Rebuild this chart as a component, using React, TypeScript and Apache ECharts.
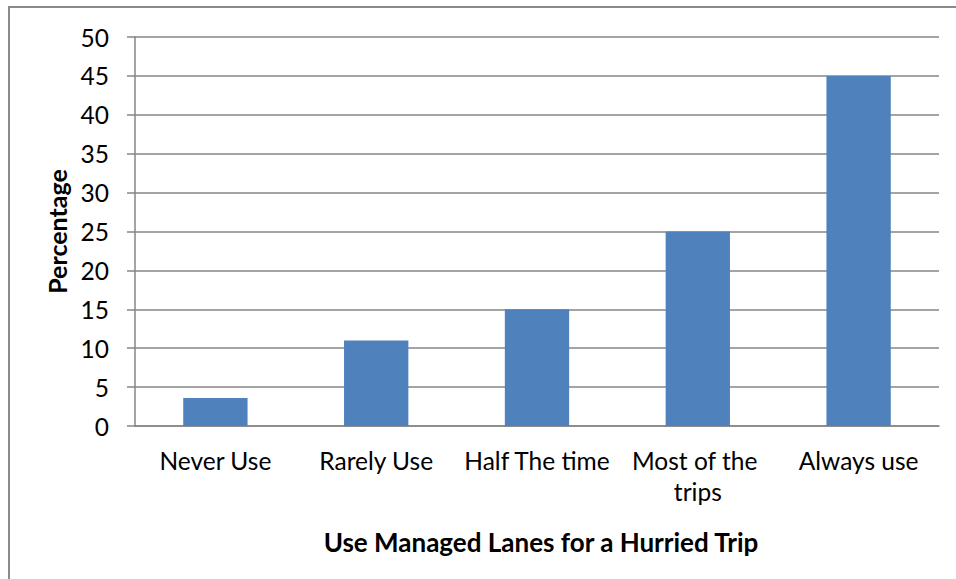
import React, { useEffect, useRef } from "react";
import * as echarts from "echarts";

const categories = ["Never Use", "Rarely Use", "Half The time", "Most of the trips", "Always use"];
const percentages = [3.6, 11, 15, 25, 45];
const yTicks = { min: 0, max: 50, interval: 5 };
const xTitle = "Use Managed Lanes for a Hurried Trip";
const yTitle = "Percentage";

const FONT = "Lato, 'Noto Sans', sans-serif";

export default function App() {
  const ref = useRef<HTMLDivElement>(null);
  useEffect(() => {
    if (!ref.current) return;
    const chart = echarts.init(ref.current, undefined, { renderer: "svg" });
    chart.setOption({
      animation: false,
      backgroundColor: "#ffffff",
      textStyle: { fontFamily: FONT },
      graphic: [
        {
          type: "rect",
          shape: { x: 9, y: 7, width: 1200, height: 900 },
          style: { fill: "none", stroke: "#8a8a8a", lineWidth: 2 },
          silent: true,
        },
      ],
      grid: { left: 135, right: 17, top: 37, bottom: 153, containLabel: false },
      xAxis: {
        type: "category",
        data: categories,
        axisLine: { show: true, lineStyle: { color: "#868686", width: 1.5 } },
        axisTick: { show: false },
        axisLabel: {
          interval: 0,
          color: "#000",
          fontFamily: FONT,
          fontSize: 24.5,
          lineHeight: 31,
          margin: 19,
          width: 155,
          overflow: "break",
        },
        name: xTitle,
        nameLocation: "middle",
        nameGap: 103,
        nameTextStyle: {
          color: "#000",
          fontFamily: FONT,
          fontSize: 26,
          fontWeight: "bold",
          padding: [0, 0, 0, 8],
        },
      },
      yAxis: {
        type: "value",
        min: yTicks.min,
        max: yTicks.max,
        interval: yTicks.interval,
        axisLine: { show: true, lineStyle: { color: "#868686", width: 1.5 } },
        axisTick: { show: true, length: 8, lineStyle: { color: "#868686", width: 1.5 } },
        splitLine: { show: true, lineStyle: { color: "#868686", width: 1.5 } },
        axisLabel: { color: "#000", fontFamily: FONT, fontSize: 24.5, margin: 26 },
        name: yTitle,
        nameLocation: "middle",
        nameRotate: 90,
        nameGap: 60,
        nameTextStyle: { color: "#000", fontFamily: FONT, fontSize: 25, fontWeight: "bold" },
      },
      series: [
        {
          type: "bar",
          data: percentages,
          barWidth: "40%",
          itemStyle: { color: "#4F81BD" },
        },
      ],
    });
    return () => chart.dispose();
  }, []);
  return (
    <div
      ref={ref}
      style={{ position: "fixed", left: 0, top: 0, width: 956, height: 579 }}
    />
  );
}
